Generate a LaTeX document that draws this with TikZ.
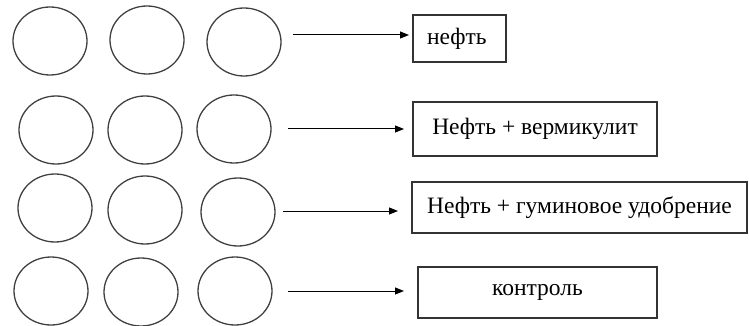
\documentclass[tikz,border=0pt]{standalone}
\usepackage{fontspec}
\setmainfont{Liberation Serif}
\newfontfamily\rufont{Liberation Serif}
\usetikzlibrary{shapes.geometric,arrows.meta}
\tikzset{
  dish/.style={ellipse, draw=black!75, line width=1.3pt, inner sep=0pt, minimum width=74pt, minimum height=68pt},
  box/.style={rectangle, draw=black!80, line width=1.3pt, inner sep=0pt, font=\rufont\fontsize{23.5}{28}\selectfont},
  arr/.style={draw=black, line width=1pt, -{Triangle[length=9pt,width=7pt]}}
}
\begin{document}
\begin{tikzpicture}[x=1pt,y=-1pt]
\useasboundingbox (0,0) rectangle (749,326);
% row 1
\node[dish] (c11) at (50,41) {};
\node[dish] (c12) at (147,40) {};
\node[dish] (c13) at (244,42) {};
\node[box, minimum height=47pt, text width=65pt, inner xsep=14pt, align=left] (b1) at (459.5,38.5) {нефть};
\coordinate (a1s) at (293,35);
\coordinate (a1e) at (409,35);
\draw[arr] (a1s) -- (a1e);
% row 2
\node[dish] (c21) at (56,130) {};
\node[dish] (c22) at (145,130) {};
\node[dish] (c23) at (234,129) {};
\node[box, minimum width=244pt, minimum height=54pt] (b2) at (535,129) {Нефть + вермикулит};
\coordinate (a2s) at (288,129);
\coordinate (a2e) at (404,129);
\draw[arr] (a2s) -- (a2e);
% row 3
\node[dish] (c31) at (55,208) {};
\node[dish] (c32) at (145,210) {};
\node[dish] (c33) at (238,212) {};
\node[box, minimum width=335pt, minimum height=51pt] (b3) at (579.5,207.5) {Нефть + гуминовое удобрение};
\coordinate (a3s) at (283,211);
\coordinate (a3e) at (398,211);
\draw[arr] (a3s) -- (a3e);
% row 4
\node[dish] (c41) at (51,291) {};
\node[dish] (c42) at (141,292) {};
\node[dish] (c43) at (235,291) {};
\node[box, minimum width=239pt, minimum height=51pt] (b4) at (537.5,292.5) {контроль};
\coordinate (a4s) at (288,291);
\coordinate (a4e) at (404,291);
\draw[arr] (a4s) -- (a4e);
\end{tikzpicture}
\end{document}
